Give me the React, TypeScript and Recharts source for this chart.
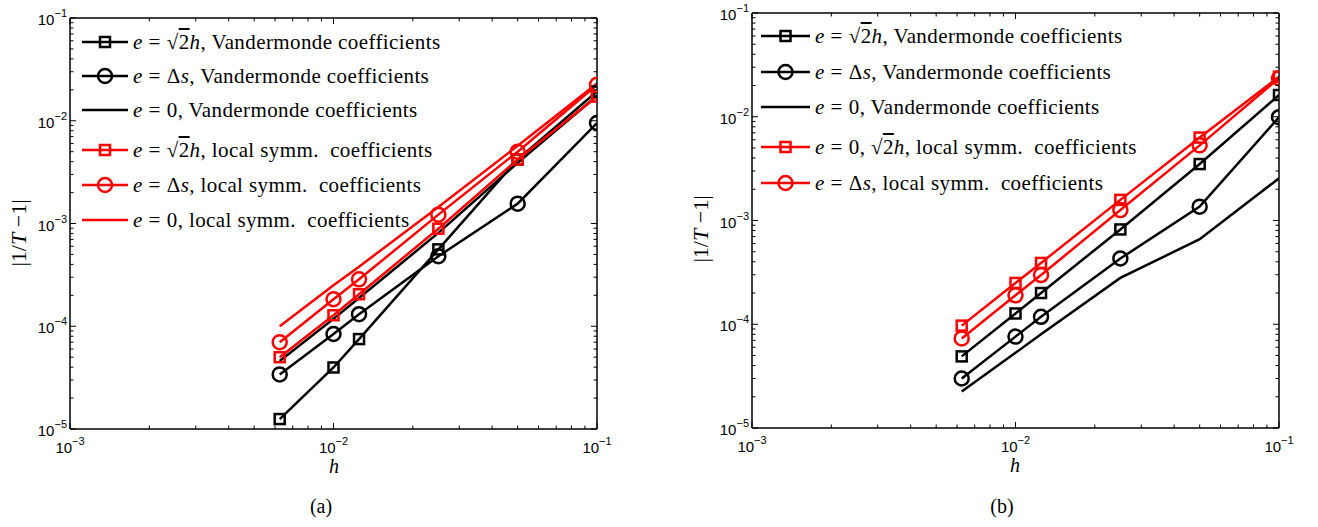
import React from 'react'
import { LineChart, Line, XAxis, YAxis, Legend } from 'recharts'

// grid sizes h (same for both panels)
const hValues = [0.00625, 0.01, 0.0125, 0.025, 0.05, 0.1]

// panel (a)
const aVandSqrt2 = [1.25e-5, 3.97e-5, 7.5e-5, 5.6e-4, 4.2e-3, 1.93e-2]
const aVandDs = [3.4e-5, 8.4e-5, 1.31e-4, 4.8e-4, 1.56e-3, 9.5e-3]
const aVandZero = [4.6e-5, 1.18e-4, 1.88e-4, 8.1e-4, 3.9e-3, 1.75e-2]
const aLocSqrt2 = [5.0e-5, 1.28e-4, 2.05e-4, 8.9e-4, 4.2e-3, 1.72e-2]
const aLocDs = [7.0e-5, 1.83e-4, 2.86e-4, 1.22e-3, 5.0e-3, 2.24e-2]
const aLocZero = [1.0e-4, 2.5e-4, 3.8e-4, 1.45e-3, 5.7e-3, 2.3e-2]

// panel (b)
const bVandSqrt2 = [4.9e-5, 1.27e-4, 2.0e-4, 8.2e-4, 3.5e-3, 1.62e-2]
const bVandDs = [3.0e-5, 7.6e-5, 1.18e-4, 4.3e-4, 1.36e-3, 9.9e-3]
const bVandZero = [2.25e-5, 5.3e-5, 8.0e-5, 2.8e-4, 6.6e-4, 2.55e-3]
const bLocSqrt2 = [9.7e-5, 2.5e-4, 3.9e-4, 1.58e-3, 6.3e-3, 2.43e-2]
const bLocDs = [7.3e-5, 1.9e-4, 2.98e-4, 1.26e-3, 5.3e-3, 2.35e-2]

// axis decades
const xMajor = [1e-3, 1e-2, 1e-1]
const yMajor = [1e-5, 1e-4, 1e-3, 1e-2, 1e-1]
const minorSteps = [2, 3, 4, 5, 6, 7, 8, 9]

const withMinor = (major: number[]) =>
  major.flatMap((m, i) => (i < major.length - 1 ? [m, ...minorSteps.map(k => k * m)] : [m]))

const xTicks = withMinor(xMajor)
const yTicks = withMinor(yMajor)

const AXIS_FONT = '"Liberation Sans", Arial, sans-serif'
const TEX_FONT = '"Liberation Serif", "DejaVu Serif", serif'
const RED = '#ff0000'
const BLACK = '#000000'

const isMajor = (v: number) => Math.abs(Math.log10(v) - Math.round(Math.log10(v))) < 1e-6
const expLabel = (v: number) => '\u2212' + Math.abs(Math.round(Math.log10(v)))

type Marker = 'square' | 'circle' | 'none'
interface Series {
  key: string
  color: string
  marker: Marker
  lhs: 'sqrt2h' | 'ds' | 'zero' | 'zeroSqrt2h'
  coef: string
}

const seriesA: Series[] = [
  { key: 'vandSqrt2', color: BLACK, marker: 'square', lhs: 'sqrt2h', coef: 'Vandermonde coefficients' },
  { key: 'vandDs', color: BLACK, marker: 'circle', lhs: 'ds', coef: 'Vandermonde coefficients' },
  { key: 'vandZero', color: BLACK, marker: 'none', lhs: 'zero', coef: 'Vandermonde coefficients' },
  { key: 'locSqrt2', color: RED, marker: 'square', lhs: 'sqrt2h', coef: 'local symm.  coefficients' },
  { key: 'locDs', color: RED, marker: 'circle', lhs: 'ds', coef: 'local symm.  coefficients' },
  { key: 'locZero', color: RED, marker: 'none', lhs: 'zero', coef: 'local symm.  coefficients' },
]

const seriesB: Series[] = [
  { key: 'vandSqrt2', color: BLACK, marker: 'square', lhs: 'sqrt2h', coef: 'Vandermonde coefficients' },
  { key: 'vandDs', color: BLACK, marker: 'circle', lhs: 'ds', coef: 'Vandermonde coefficients' },
  { key: 'vandZero', color: BLACK, marker: 'none', lhs: 'zero', coef: 'Vandermonde coefficients' },
  { key: 'locSqrt2', color: RED, marker: 'square', lhs: 'zeroSqrt2h', coef: 'local symm.  coefficients' },
  { key: 'locDs', color: RED, marker: 'circle', lhs: 'ds', coef: 'local symm.  coefficients' },
]

const dataA = hValues.map((h, i) => ({
  h,
  vandSqrt2: aVandSqrt2[i],
  vandDs: aVandDs[i],
  vandZero: aVandZero[i],
  locSqrt2: aLocSqrt2[i],
  locDs: aLocDs[i],
  locZero: aLocZero[i],
}))

const dataB = hValues.map((h, i) => ({
  h,
  vandSqrt2: bVandSqrt2[i],
  vandDs: bVandDs[i],
  vandZero: bVandZero[i],
  locSqrt2: bLocSqrt2[i],
  locDs: bLocDs[i],
}))

const LW = 2.5
const SQ = 10
const CR = 7

const tickText = { fontFamily: AXIS_FONT, fontSize: 15 }
const supText = { fontSize: 11 }

// ticks drawn inward, MATLAB style
const BottomTick = (props: any) => {
  const { x, y, payload } = props
  const major = isMajor(payload.value)
  return (
    <g>
      <line x1={x} x2={x} y1={y} y2={y - (major ? 6 : 3.5)} stroke={BLACK} strokeWidth={1} />
      {major && (
        <text x={x} y={y + 24} textAnchor="middle" style={tickText} fill={BLACK}>
          10<tspan dy={-8} style={supText}>{expLabel(payload.value)}</tspan>
        </text>
      )}
    </g>
  )
}

const TopTick = (props: any) => {
  const { x, y, payload } = props
  const major = isMajor(payload.value)
  return <line x1={x} x2={x} y1={y} y2={y + (major ? 6 : 3.5)} stroke={BLACK} strokeWidth={1} />
}

const LeftTick = (props: any) => {
  const { x, y, payload } = props
  const major = isMajor(payload.value)
  return (
    <g>
      <line x1={x} x2={x + (major ? 6 : 3.5)} y1={y} y2={y} stroke={BLACK} strokeWidth={1} />
      {major && (
        <text x={x - 3} y={y + 7} textAnchor="end" style={tickText} fill={BLACK}>
          10<tspan dy={-8} style={supText}>{expLabel(payload.value)}</tspan>
        </text>
      )}
    </g>
  )
}

const RightTick = (props: any) => {
  const { x, y, payload } = props
  const major = isMajor(payload.value)
  return <line x1={x} x2={x - (major ? 6 : 3.5)} y1={y} y2={y} stroke={BLACK} strokeWidth={1} />
}

const squareDot = (color: string) => (props: any) => {
  const { cx, cy, index } = props
  return (
    <rect key={`sq-${index}`} x={cx - SQ / 2} y={cy - SQ / 2} width={SQ} height={SQ}
      fill="none" stroke={color} strokeWidth={LW} />
  )
}

const circleDot = (color: string) => (props: any) => {
  const { cx, cy, index } = props
  return <circle key={`ci-${index}`} cx={cx} cy={cy} r={CR} fill="none" stroke={color} strokeWidth={LW} />
}

const Lhs = ({ kind }: { kind: Series['lhs'] }) => {
  const eq = <span style={{ margin: '0 0.28em' }}>=</span>
  const sqrt2h = (
    <>
      √<span style={{ textDecoration: 'overline' }}>2</span><i>h</i>
    </>
  )
  if (kind === 'sqrt2h') return <><i>e</i>{eq}{sqrt2h}, </>
  if (kind === 'ds') return <><i>e</i>{eq}Δ<i>s</i>, </>
  if (kind === 'zero') return <><i>e</i>{eq}0, </>
  return <><i>e</i>{eq}0, {sqrt2h}, </>
}

const LegendBox = ({ series, rowY, lineX, lineW, textX }: any) => (
  <div style={{ position: 'relative', width: 500, height: 240 }}>
    {series.map((s: Series, i: number) => (
      <div key={s.key}>
        <svg style={{ position: 'absolute', left: lineX, top: rowY[i] - 10 }} width={lineW} height={20}>
          <line x1={0} x2={lineW} y1={10} y2={10} stroke={s.color} strokeWidth={LW} />
          {s.marker === 'square' && (
            <rect x={lineW / 2 - SQ / 2} y={10 - SQ / 2} width={SQ} height={SQ} fill="none" stroke={s.color} strokeWidth={LW} />
          )}
          {s.marker === 'circle' && (
            <circle cx={lineW / 2} cy={10} r={CR} fill="none" stroke={s.color} strokeWidth={LW} />
          )}
        </svg>
        <div
          style={{
            position: 'absolute', left: textX, top: rowY[i] - 10, height: 20, lineHeight: '20px',
            fontFamily: TEX_FONT, fontSize: 21, letterSpacing: 0.4, whiteSpace: 'pre', color: BLACK,
          }}
        >
          <Lhs kind={s.lhs} />{s.coef}
        </div>
      </div>
    ))}
  </div>
)

const Panel = ({ data, series, margin, width, legend }: any) => (
  <LineChart width={width} height={527} data={data} margin={margin}>
    <XAxis dataKey="h" type="number" scale="log" domain={[1e-3, 1e-1]} allowDataOverflow
      ticks={xTicks} interval={0} height={30} tickSize={0} tickMargin={0} tickLine={false}
      axisLine={{ stroke: BLACK, strokeWidth: 1.5 }} tick={BottomTick} />
    <XAxis xAxisId="top" orientation="top" dataKey="h" type="number" scale="log" domain={[1e-3, 1e-1]}
      allowDataOverflow ticks={xTicks} interval={0} height={1} tickSize={0} tickMargin={0} tickLine={false}
      axisLine={{ stroke: BLACK, strokeWidth: 1.5 }} tick={TopTick} />
    <YAxis type="number" scale="log" domain={[1e-5, 1e-1]} allowDataOverflow ticks={yTicks} interval={0}
      width={60} tickSize={0} tickMargin={0} tickLine={false}
      axisLine={{ stroke: BLACK, strokeWidth: 1.5 }} tick={LeftTick} />
    <YAxis yAxisId="right" orientation="right" type="number" scale="log" domain={[1e-5, 1e-1]}
      allowDataOverflow ticks={yTicks} interval={0} width={1} tickSize={0} tickMargin={0} tickLine={false}
      axisLine={{ stroke: BLACK, strokeWidth: 1.5 }} tick={RightTick} />
    {series.map((s: Series) => (
      <Line key={s.key} type="linear" dataKey={s.key} stroke={s.color} strokeWidth={LW}
        dot={s.marker === 'square' ? squareDot(s.color) : s.marker === 'circle' ? circleDot(s.color) : false}
        activeDot={false} isAnimationActive={false} />
    ))}
    <Legend layout="vertical" align="center" verticalAlign="middle"
      wrapperStyle={{ left: 0, top: 0, width: 500, height: 240 }}
      content={() => <LegendBox series={series} {...legend} />} />
  </LineChart>
)

const textAt = (cx: number, baseline: number, content: React.ReactNode, extra: any = {}) => (
  <div
    style={{
      position: 'absolute', left: cx - 100, width: 200, top: baseline - 16.75, height: 20,
      lineHeight: '20px', textAlign: 'center', fontFamily: TEX_FONT, fontSize: 20, color: BLACK, ...extra,
    }}
  >
    {content}
  </div>
)

const yLabel = (cx: number, cy: number) => (
  <div
    style={{
      position: 'absolute', left: cx - 60, top: cy - 12, width: 120, height: 24, lineHeight: '24px',
      textAlign: 'center', fontFamily: TEX_FONT, fontSize: 22, whiteSpace: 'pre', color: BLACK,
      transform: 'rotate(-90deg)',
    }}
  >
    |1/<i>T</i> −1|
  </div>
)

export default function App() {
  return (
    <div style={{ position: 'absolute', left: 0, top: 0, width: 1318, height: 527, background: '#fff' }}>
      <div style={{ position: 'absolute', left: 0, top: 0 }}>
        <Panel data={dataA} series={seriesA} width={660}
          margin={{ top: 17, right: 62, bottom: 68, left: 10 }}
          legend={{ rowY: [41.7, 76, 110, 150, 185, 220], lineX: 82, lineW: 46, textX: 133 }} />
      </div>
      <div style={{ position: 'absolute', left: 660, top: 0 }}>
        <Panel data={dataB} series={seriesB} width={658}
          margin={{ top: 12, right: 38, bottom: 69, left: 32 }}
          legend={{ rowY: [36, 71.7, 106.7, 146.7, 182.7], lineX: 101, lineW: 49, textX: 155 }} />
      </div>
      {yLabel(19, 233)}
      {yLabel(701, 229)}
      {textAt(334, 473, <i>h</i>)}
      {textAt(1015, 472, <i>h</i>)}
      {textAt(321, 513, '(a)')}
      {textAt(1002, 513, '(b)')}
    </div>
  )
}
